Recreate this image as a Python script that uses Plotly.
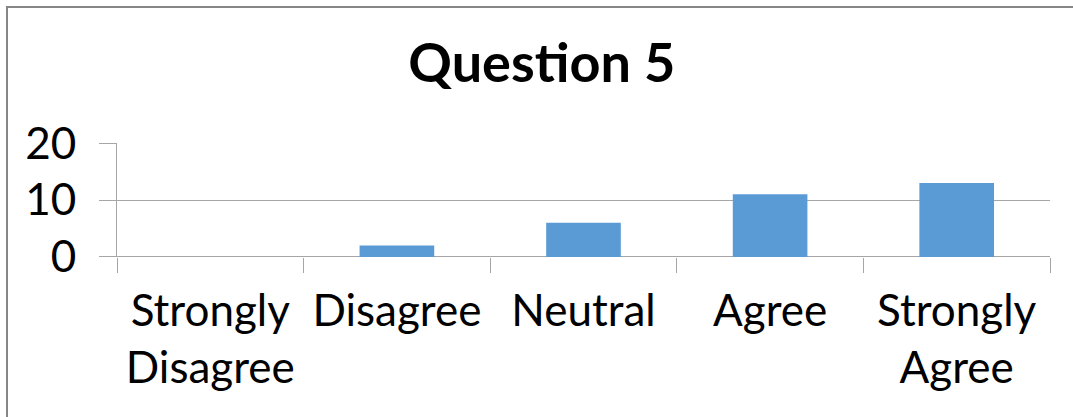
import plotly.graph_objects as go

categories = ["Strongly<br>Disagree", "Disagree", "Neutral", "Agree", "Strongly<br>Agree"]
values = [0, 2, 6, 11, 13]
y_ticks = [0, 10, 20]
title_text = "Question 5"

W, H = 1073, 417
L, R, T, B = 117, 23, 143, 160

fig = go.Figure(go.Bar(x=categories, y=values, marker=dict(color="#5B9BD5", line=dict(width=0)),
                       width=0.4))

font_family = "Lato"
grid_c = "#A6A6A6"
fig.update_layout(
    width=W, height=H,
    margin=dict(l=L, r=R, t=T, b=B),
    paper_bgcolor="white", plot_bgcolor="white",
    showlegend=False,
    title=dict(text="<b>" + title_text + "</b>", x=0.505, xanchor="center", y=1 - 63 / H, yanchor="middle",
               font=dict(family=font_family, size=54, color="black")),
    font=dict(family=font_family, color="black"),
)
fig.update_xaxes(
    type="category", tickson="boundaries", ticks="outside", ticklen=15, tickcolor=grid_c, tickwidth=1,
    showgrid=False, showline=False, tickfont=dict(size=44, family=font_family, color="black"),
    ticklabelstandoff=24,
)
fig.update_yaxes(
    range=[-0.02, 20.02], tickvals=y_ticks, ticks="outside", ticklen=17, tickcolor=grid_c, tickwidth=1,
    showgrid=True, gridcolor=grid_c, gridwidth=1,
    zeroline=True, zerolinecolor=grid_c, zerolinewidth=1,
    showline=True, linecolor=grid_c, linewidth=1,
    tickfont=dict(size=44, family=font_family, color="black"), ticklabelstandoff=14,
)

# outer chart frame (top and left edges visible), drawn as a page overlay
frame_js = """
var f = document.createElement('div');
f.style.position = 'fixed';
f.style.left = '6px';
f.style.top = '6px';
f.style.width = '1067px';
f.style.height = '411px';
f.style.borderTop = '2px solid #868686';
f.style.borderLeft = '2px solid #868686';
f.style.boxSizing = 'border-box';
f.style.pointerEvents = 'none';
document.body.appendChild(f);
"""

fig.write_html("out.html", config={"displayModeBar": False}, post_script=frame_js)
